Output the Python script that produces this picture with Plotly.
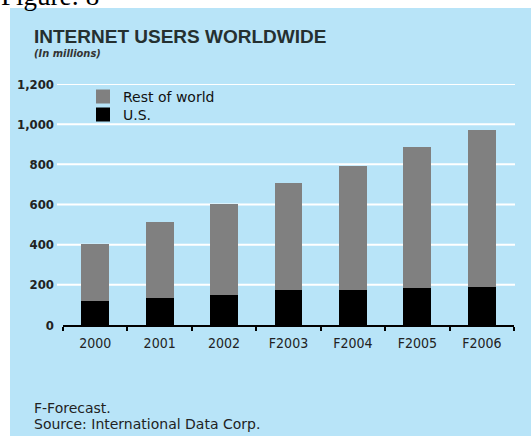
import plotly.graph_objects as go

years = ["2000", "2001", "2002", "F2003", "F2004", "F2005", "F2006"]
us_users = [124, 139, 156, 179, 179, 187, 196]
rest_of_world = [274, 370, 444, 522, 609, 692, 771]
y_ticks = [0, 200, 400, 600, 800, 1000, 1200]
y_tick_labels = ["0", "200", "400", "600", "800", "1,000", "1,200"]

W, H = 531, 436
L, R, T, B = 63, 17, 84, 111
pw, ph = W - L - R, H - T - B

def px(x):
    return (x - L) / pw

def py(y):
    return (H - B - y) / ph

COND = "DejaVu Sans Condensed, Liberation Sans Narrow, sans-serif"
SANS = "Liberation Sans, Arial, sans-serif"
DEJ = "DejaVu Sans, sans-serif"
BG = "#B8E4F8"

fig = go.Figure()
fig.add_trace(go.Bar(x=years, y=us_users, name="U.S.", legend="legend2",
                     marker=dict(color="#000000", line=dict(width=2, color="#000000")), width=0.40))
fig.add_trace(go.Bar(x=years, y=rest_of_world, name="Rest of world", legend="legend",
                     marker=dict(color="#808080", line=dict(width=2, color="#808080")), width=0.40))

shapes = [dict(type="rect", xref="paper", yref="paper", x0=px(10), x1=px(W + 5), y0=py(H + 5), y1=py(8),
               fillcolor=BG, line=dict(width=0), layer="below")]
for v in y_ticks[1:]:
    shapes.append(dict(type="line", xref="paper", yref="y", x0=px(57), x1=px(515), y0=v, y1=v,
                       line=dict(color="white", width=2), layer="below"))

annotations = [
    dict(text="Figure: 8", xref="paper", yref="paper", x=px(-1), y=py(-3.5), xanchor="left", yanchor="middle",
         showarrow=False, font=dict(family="Liberation Serif, Times New Roman, serif", size=27, color="#000")),
    dict(text="<b>INTERNET USERS WORLDWIDE</b>", xref="paper", yref="paper", x=px(32), y=py(36.5), xanchor="left",
         yanchor="middle", showarrow=False, font=dict(family=SANS, size=19, color="#253030")),
    dict(text="<b><i>(In millions)</i></b>", xref="paper", yref="paper", x=px(32), y=py(53.5), xanchor="left",
         yanchor="middle", showarrow=False, font=dict(family=COND, size=11, color="#333")),
    dict(text="F-Forecast.", xref="paper", yref="paper", x=px(32), y=py(408), xanchor="left",
         yanchor="middle", showarrow=False, font=dict(family=DEJ, size=14, color="#222")),
    dict(text="Source: International Data Corp.", xref="paper", yref="paper", x=px(32), y=py(424), xanchor="left",
         yanchor="middle", showarrow=False, font=dict(family=DEJ, size=14, color="#222")),
]

legend_style = dict(xanchor="left", yanchor="middle", bgcolor="rgba(0,0,0,0)",
                    font=dict(family=DEJ, size=14, color="#111"), itemwidth=30)

fig.update_layout(
    width=W, height=H,
    margin=dict(l=L, r=R, t=T, b=B, pad=0),
    paper_bgcolor="white", plot_bgcolor="rgba(0,0,0,0)",
    barmode="stack",
    showlegend=True,
    legend=dict(x=px(83), y=py(97), **legend_style),
    legend2=dict(x=px(83), y=py(115), **legend_style),
    xaxis=dict(type="category", showgrid=False, showline=True, linecolor="#000", linewidth=2,
               ticks="outside", tickson="boundaries", ticklen=4, tickwidth=2, tickcolor="#000",
               ticklabelstandoff=4,
               tickfont=dict(family=COND, size=14, color="#222"), range=[-0.5, 6.5], fixedrange=True),
    yaxis=dict(range=[0, 1200], tickvals=y_ticks, ticktext=y_tick_labels, showgrid=False, zeroline=False,
               showline=False, ticks="", ticklabelstandoff=8,
               tickfont=dict(family=COND, size=13, color="#222", weight="bold")),
    shapes=shapes,
    annotations=annotations,
)

fig.write_html("out.html")
